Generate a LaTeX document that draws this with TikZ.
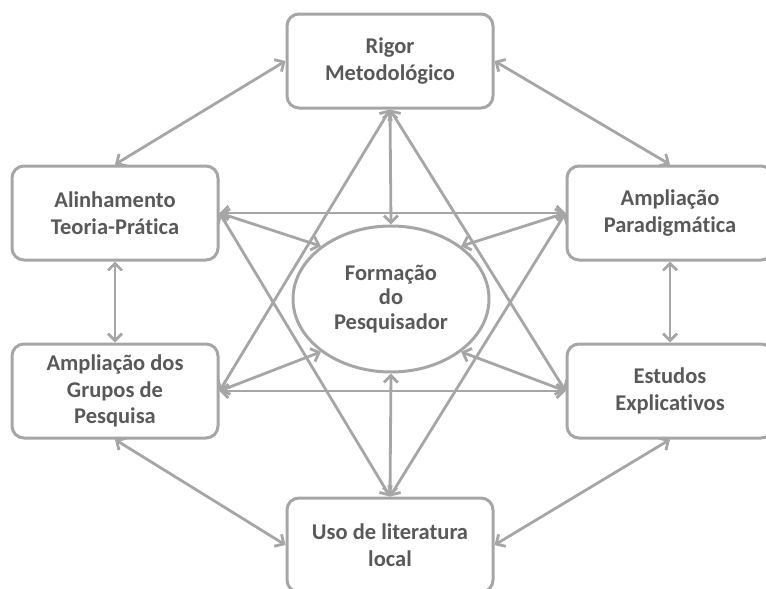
\documentclass[tikz,border=0pt]{standalone}
\usepackage{fontspec}
\setmainfont{Carlito}[Ligatures=NoCommon]
\usetikzlibrary{arrows.meta,shapes.geometric}
\definecolor{linegray}{HTML}{A6A6A6}
\definecolor{textgray}{HTML}{595959}
\tikzset{>={Straight Barb[length=7pt,width=14pt,line width=2.8pt]}}
\tikzset{every edge/.style={draw=linegray,line width=2.8pt}}

\begin{document}
\begin{tikzpicture}[x=1pt,y=-1pt,
        box/.style={draw=linegray,line width=3pt,rounded corners=12pt,minimum width=206pt,
            minimum height=94pt,align=center,text=textgray,
            font=\fontsize{22.5}{26.5}\selectfont\bfseries},
        center/.style={box,ellipse,rounded corners=0pt,minimum width=196pt,minimum height=146pt,
            inner sep=0pt,font=\fontsize{22.5}{24.5}\selectfont\bfseries}]
        \clip (0,0) rectangle (766,589);
        \node[center] (form)  at (391,299) {Formação\\do\\Pesquisador};
        \node[box]    (rigor) at (390,61)  {Rigor\\Metodológico};
        \node[box]    (alin)  at (115,213) {Alinhamento\\Teoria-Prática};
        \node[box]    (ampl)  at (670,213) {Ampliação\\Paradigmática};
        \node[box]    (grup)  at (115,391) {Ampliação dos\\Grupos de\\Pesquisa};
        \node[box]    (estu)  at (670,391) {Estudos\\Explicativos};
        \node[box]    (uso)   at (390,545) {Uso de literatura\\local};
        \path[<->]
            % outer ring
            (rigor.west) edge (alin.north)
            (rigor.east) edge (ampl.north)
            (alin.south) edge (grup.north)
            (ampl.south) edge (estu.north)
            (grup.south) edge (uso.west)
            (estu.south) edge (uso.east)
            % across
            (alin.east)  edge (ampl.west)
            (grup.east)  edge (estu.west)
            % star
            (rigor.south) edge (grup.east)
            (rigor.south) edge (estu.west)
            (uso.north)   edge (alin.east)
            (uso.north)   edge (ampl.west)
            % to the centre
            (rigor.south) edge (form.north)
            (uso.north)   edge (form.south)
            (alin.east)   edge (form.143)
            (ampl.west)   edge (form.37)
            (grup.east)   edge (form.217)
            (estu.west)   edge (form.323)
        ;
    \end{tikzpicture}
\end{document}
